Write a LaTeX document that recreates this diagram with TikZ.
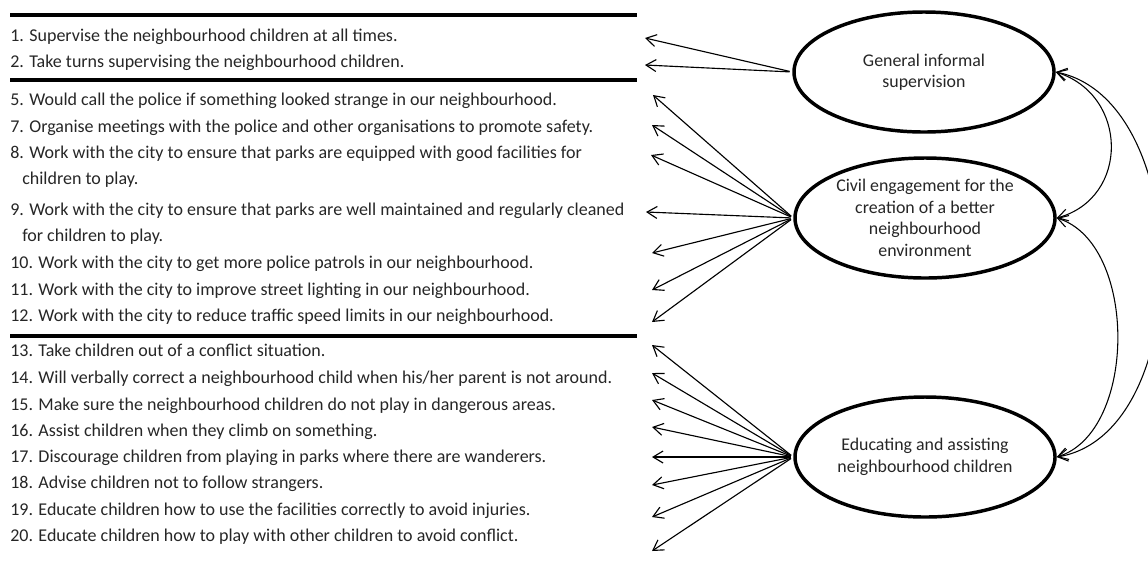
\documentclass[tikz,border=0pt]{standalone}
\usepackage{fontspec}
\setmainfont{Carlito}
\usetikzlibrary{arrows.meta,shapes.geometric}
\definecolor{ink}{gray}{0.15}
\begin{document}
\begin{tikzpicture}[x=0.75pt,y=-0.75pt,
  item/.style={anchor=west,inner sep=0pt,text=ink,font=\fontsize{13.5}{16}\selectfont,text height=9.5pt,text depth=2.8pt},
  factor/.style={draw,ellipse,line width=2.6pt,minimum width=195pt,minimum height=90pt,inner sep=0pt,align=center,text=ink,font=\fontsize{13.4}{16.1}\selectfont},
  rulebar/.style={line width=2.3pt},
  load/.style={-{Straight Barb[length=7.5pt,width=9pt]},line width=0.85pt,shorten <=2pt},
  cov/.style={{Straight Barb[length=7.5pt,width=9pt]}-{Straight Barb[length=7.5pt,width=9pt]},line width=0.8pt}]
\useasboundingbox (0,0) rectangle (1148,562);

% rules
\draw[rulebar] (10,15) -- (637,15);
\draw[rulebar] (10,80) -- (637,80);
\draw[rulebar] (10,336) -- (637,336);

% items
\node[item] (r1) at (10,37) {1. Supervise the neighbourhood children at all times.};
\node[item] (r2) at (10,63) {2. Take turns supervising the neighbourhood children.};
\node[item] (r5) at (10,101) {5. Would call the police if something looked strange in our neighbourhood.};
\node[item] (r7) at (10,128) {7. Organise meetings with the police and other organisations to promote safety.};
\node[item] (r8) at (10,154) {8. Work with the city to ensure that parks are equipped with good facilities for};
\node[item] (r8b) at (22,180) {children to play.};
\node[item] (r9) at (10,211) {9. Work with the city to ensure that parks are well maintained and regularly cleaned};
\node[item] (r9b) at (22,237) {for children to play.};
\node[item] (r10) at (10,264) {10. Work with the city to get more police patrols in our neighbourhood.};
\node[item] (r11) at (10,291) {11. Work with the city to improve street lighting in our neighbourhood.};
\node[item] (r12) at (10,317) {12. Work with the city to reduce traffic speed limits in our neighbourhood.};
\node[item] (r13) at (10,352) {13. Take children out of a conflict situation.};
\node[item] (r14) at (10,379) {14. Will verbally correct a neighbourhood child when his/her parent is not around.};
\node[item] (r15) at (10,406) {15. Make sure the neighbourhood children do not play in dangerous areas.};
\node[item] (r16) at (10,432) {16. Assist children when they climb on something.};
\node[item] (r17) at (10,458) {17. Discourage children from playing in parks where there are wanderers.};
\node[item] (r18) at (10,484) {18. Advise children not to follow strangers.};
\node[item] (r19) at (10,511) {19. Educate children how to use the facilities correctly to avoid injuries.};
\node[item] (r20) at (10,537) {20. Educate children how to play with other children to avoid conflict.};

% factors
\node[factor] (gis) at (924,72) {General informal\\supervision};
\node[factor] (civ) at (925,218) {Civil engagement for the\\creation of a better\\neighbourhood\\environment};
\node[factor] (edu) at (925,457) {Educating and assisting\\neighbourhood children};

% arrow tips
\coordinate (a1) at (645,38);
\coordinate (a2) at (645,65);
\coordinate (b1) at (653,95);
\coordinate (b2) at (652,125);
\coordinate (b3) at (651,155);
\coordinate (b4) at (646,212);
\coordinate (b5) at (652,253);
\coordinate (b6) at (652,290);
\coordinate (b7) at (652,322);
\coordinate (c1) at (652,345);
\coordinate (c2) at (652,373);
\coordinate (c3) at (652,400);
\coordinate (c4) at (652,427);
\coordinate (c5) at (652,457);
\coordinate (c6) at (652,485);
\coordinate (c7) at (652,517);
\coordinate (c8) at (652,551);

\foreach \t in {a1,a2} \draw[load] (gis.west) -- (\t);
\foreach \t in {b1,b2,b3,b4,b5,b6,b7} \draw[load] (civ.west) -- (\t);
\foreach \t in {c1,c2,c3,c4,c5,c6,c7,c8} \draw[load] (edu.west) -- (\t);

% covariances
\draw[cov] (gis.east) .. controls +(73,23) and +(73,-20) .. (civ.east);
\draw[cov] (civ.east) .. controls +(81,25) and +(81,-25) .. (edu.east);
\draw[cov] (gis.east) .. controls +(140,28) and +(140,-23) .. (edu.east);
\end{tikzpicture}
\end{document}
